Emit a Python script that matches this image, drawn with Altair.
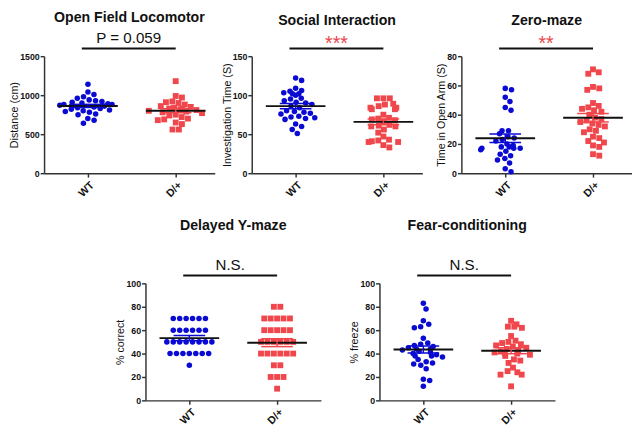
import altair as alt
import pandas as pd
import numpy as np

GROUPS = ["WT", "D/+"]

# --- data ---
of_wt = [1140, 1040, 1010, 980, 960, 940, 930, 920, 910, 900, 890, 880, 880, 870, 860,
         860, 850, 840, 830, 820, 810, 800, 790, 780, 760, 750, 700, 680, 640]
of_dp = [1180, 990, 970, 920, 910, 900, 880, 860, 850, 840, 830, 830, 820, 810, 800,
         790, 780, 770, 750, 740, 720, 700, 690, 680, 650, 630, 560, 560]

si_wt = [122, 119, 109, 106, 105, 103, 102, 102, 100, 96, 95, 93, 91, 90, 88, 86, 84,
         80, 79, 78, 77, 76, 73, 72, 71, 70, 69, 63, 60, 56, 51]
si_dp = [96, 96, 96, 89, 88, 86, 84, 84, 82, 82, 75, 71, 70, 69, 68, 66, 62, 61, 60,
         60, 56, 52, 47, 43, 42, 41, 40, 40, 36, 33]

zm_wt = [58, 57, 52, 49, 45, 43, 29, 29, 27, 25, 24, 23, 22, 20, 19, 18, 18, 17, 17,
         17, 16, 15, 13, 12, 10, 9, 7, 3, 1]
zm_dp = [71, 69, 68, 59, 58, 57, 48, 46, 45, 44, 43, 42, 40, 38, 37, 36, 35, 34, 33,
         32, 30, 29, 28, 25, 24, 22, 21, 19, 18, 13, 12]

ym_wt = [70] * 6 + [60] * 6 + [50] * 8 + [40] * 7 + [30]
ym_dp = [80] * 2 + [70] * 5 + [60] * 5 + [50] * 6 + [40] * 6 + [30] * 2 + [20] * 3 + [10]

fc_wt = [83, 78, 68, 65, 63, 62, 53, 49, 48, 47, 46, 45, 44, 44, 43, 42, 41, 40, 39,
         38, 38, 37, 35, 33, 32, 31, 30, 27, 18, 17, 12]
fc_dp = [68, 65, 63, 63, 62, 55, 51, 50, 49, 48, 47, 46, 45, 44, 43, 42, 41, 40, 40,
         39, 38, 35, 34, 32, 28, 25, 24, 22, 22, 12]

titles = ["Open Field Locomotor", "Social Interaction", "Zero-maze",
          "Delayed Y-maze", "Fear-conditioning"]
ytitles = ["Distance (cm)", "Investigation Time (S)", "Time in Open Arm (S)",
           "% correct", "% freeze"]
ymaxes = [1500, 150, 80, 100, 100]
ysteps = [500, 50, 20, 20, 20]
notes = ["P = 0.059", "***", "**", "N.S.", "N.S."]
note_colors = ["#111111", "#e8464c", "#e8464c", "#111111", "#111111"]
series = [(of_wt, of_dp), (si_wt, si_dp), (zm_wt, zm_dp), (ym_wt, ym_dp), (fc_wt, fc_dp)]

BLUE = "#0a0ad2"
RED = "#f0474c"
FONT = "Liberation Sans"

H = 120
PX_PER_UNIT = 90.0


def swarm(values, ymax, diam=6.6):
    """Deterministic beeswarm offsets (in x data units)."""
    scale = H / ymax
    order = sorted(range(len(values)), key=lambda i: -values[i])
    placed = []
    offs = [0.0] * len(values)
    for i in order:
        y = values[i] * scale
        intervals = []
        for px, py in placed:
            dy = abs(y - py)
            if dy < diam:
                dx = (diam ** 2 - dy ** 2) ** 0.5
                intervals.append((px - dx, px + dx))
        cands = [0.0] + [a for a, b in intervals] + [b for a, b in intervals]
        cands = sorted(cands, key=lambda c: (round(abs(c), 6), -c))
        for c in cands:
            if all(not (a + 1e-6 < c < b - 1e-6) for a, b in intervals):
                offs[i] = c
                break
        placed.append((offs[i], y))
    vals = np.array(values, dtype=float)
    offs = np.array(offs)
    for v in np.unique(vals):
        m = vals == v
        if m.sum() > 1:
            offs[m] -= offs[m].mean()
    return list(offs / PX_PER_UNIT)


def panel(k, W, title_offset):
    wt, dp = series[k]
    ymax = ymaxes[k]
    rows = []
    for gi, (g, vals) in enumerate(zip(GROUPS, (wt, dp))):
        offs = swarm(vals, ymax)
        for v, o in zip(vals, offs):
            rows.append({"group": g, "x": gi + 1 + o, "y": v})
    pts = pd.DataFrame(rows)

    stats = []
    for gi, (g, vals) in enumerate(zip(GROUPS, (wt, dp))):
        a = np.array(vals, dtype=float)
        m = a.mean()
        se = a.std(ddof=1) / np.sqrt(len(a))
        stats.append({"group": g, "xm1": gi + 1 - 0.34, "xm2": gi + 1 + 0.34,
                      "xs1": gi + 1 - 0.18, "xs2": gi + 1 + 0.18, "xc": gi + 1,
                      "mean": m, "lo": m - se, "hi": m + se})
    st = pd.DataFrame(stats)

    xs = alt.Scale(domain=[0.5, 0.5 + W / PX_PER_UNIT], nice=False, zero=False)
    ys = alt.Scale(domain=[0, ymax], nice=False)
    cs = alt.Scale(domain=GROUPS, range=[BLUE, RED])

    xaxis = alt.Axis(values=[1, 2], labelExpr="datum.value == 1 ? 'WT' : 'D/+'",
                     title=None, grid=False, labelAngle=315, labelFontWeight="bold",
                     labelFontSize=11, labelFont=FONT, domainColor="#333333",
                     tickColor="#333333", domainWidth=1.5, tickWidth=1.5, tickSize=4,
                     labelColor="#111111", labelAlign="right", labelBaseline="top",
                     labelPadding=2, labelOverlap=False)
    yaxis = alt.Axis(values=list(range(0, ymax + 1, ysteps[k])), title=ytitles[k],
                     format="d", labelOverlap=False, labelFlush=False,
                     grid=False, labelFontWeight="bold", labelFontSize=9, labelFont=FONT,
                     titleFont=FONT, titleFontSize=11, titleFontWeight="normal",
                     domainColor="#333333", tickColor="#333333", domainWidth=1.5,
                     tickWidth=1.5, tickSize=4, labelColor="#111111",
                     titleColor="#111111", titlePadding=0, labelPadding=1)

    def X(f):
        return alt.X(f, scale=xs, axis=xaxis)

    def Y(f):
        return alt.Y(f, scale=ys, axis=yaxis)

    gcol = alt.Color("group:N", scale=cs, legend=None)

    base_pts = alt.Chart(pts).mark_point(filled=True, opacity=1, strokeWidth=0).encode(
        x=X("x:Q"), y=Y("y:Q"), color=gcol,
        shape=alt.Shape("group:N", scale=alt.Scale(domain=GROUPS, range=["circle", "square"]),
                        legend=None),
        size=alt.Size("group:N", scale=alt.Scale(domain=GROUPS, range=[32, 36]), legend=None),
    )

    sb = alt.Chart(st)
    mean_line = sb.mark_rule(color="#111111", strokeWidth=2).encode(
        x=X("xm1:Q"), x2="xm2:Q", y=Y("mean:Q"))
    sem_hi = sb.mark_rule(strokeWidth=1.5).encode(
        x=X("xs1:Q"), x2="xs2:Q", y=Y("hi:Q"), color=gcol)
    sem_lo = sb.mark_rule(strokeWidth=1.5).encode(
        x=X("xs1:Q"), x2="xs2:Q", y=Y("lo:Q"), color=gcol)
    sem_v = sb.mark_rule(strokeWidth=1.5).encode(
        x=X("xc:Q"), y=Y("lo:Q"), y2="hi:Q", color=gcol)

    ann = pd.DataFrame({"x1": [0.93], "x2": [2.0], "xc": [1.465], "label": [notes[k]]})
    ann_line = alt.Chart(ann).mark_rule(color="#111111", strokeWidth=2).encode(
        x=X("x1:Q"), x2="x2:Q", y=alt.value(-8))
    star = notes[k].startswith("*")
    if star:
        ann_text = alt.Chart(ann).mark_text(
            font=FONT, fontSize=20, color=note_colors[k], baseline="alphabetic").encode(
            x=X("xc:Q"), y=alt.value(-6), text="label:N")
    else:
        ann_text = alt.Chart(ann).mark_text(
            font=FONT, fontSize=15.5, color=note_colors[k], baseline="middle").encode(
            x=X("xc:Q"), y=alt.value(-19), text="label:N")

    return alt.layer(base_pts, mean_line, sem_hi, sem_lo, sem_v, ann_line, ann_text).properties(
        width=W, height=H,
        title=alt.TitleParams(titles[k], font=FONT, fontSize=14.5, fontWeight="bold",
                              color="#111111", offset=title_offset, anchor="middle",
                              frame="group"))


spacer = alt.Chart(pd.DataFrame({"a": [0]})).mark_point(opacity=0).encode(
    x=alt.value(0), y=alt.value(0)).properties(width=44, height=10)

top = alt.hconcat(
    alt.hconcat(panel(0, 175, 6), panel(1, 175, 6), spacing=6),
    panel(2, 175, 6), spacing=13)
bottom = alt.hconcat(spacer, panel(3, 180, 25), panel(4, 180, 25), spacing=28)
chart = alt.vconcat(top, bottom, spacing=19).configure(
    padding={"left": 0, "top": -4, "right": 0, "bottom": 0},
    background="white").configure_view(stroke=None)

chart.save("out.html", embed_options={"renderer": "svg", "actions": False})
